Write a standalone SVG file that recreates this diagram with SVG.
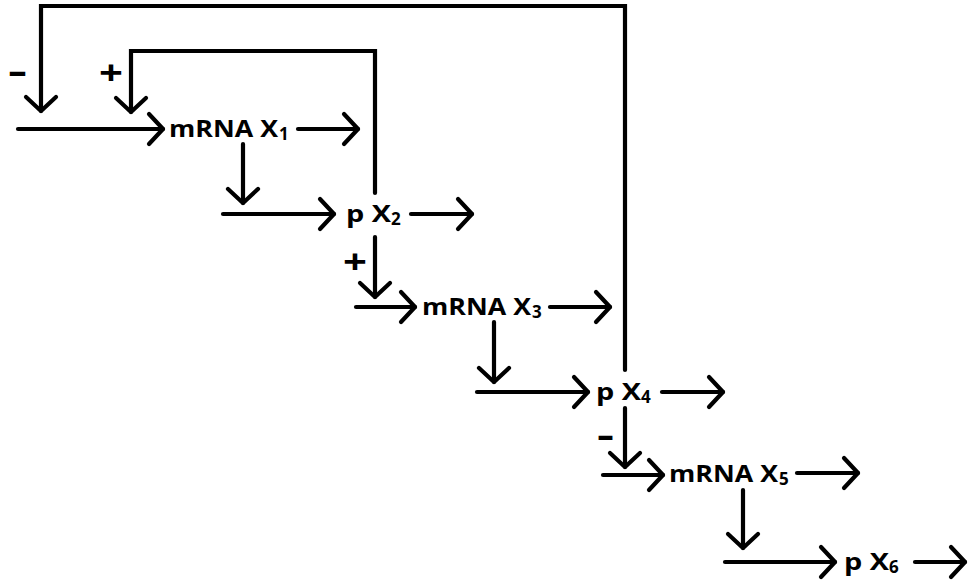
<svg xmlns="http://www.w3.org/2000/svg" width="969" height="580" viewBox="0 0 969 580">
<style>
.ln{fill:none;stroke:#000;stroke-width:4.2;stroke-linecap:round;stroke-linejoin:miter}
.t{font-family:"Open Sans","Liberation Sans",sans-serif;font-weight:700;font-size:23.5px;fill:#000}
.s{font-family:"Open Sans","Liberation Sans",sans-serif;font-weight:700;font-size:17px;fill:#000}
.sg{font-family:"Open Sans","Liberation Sans",sans-serif;font-weight:700;fill:#000}
</style>
<defs>
<marker id="ah" viewBox="-18 -18 22 36" refX="0" refY="0" markerWidth="22" markerHeight="36" markerUnits="userSpaceOnUse" orient="auto" overflow="visible">
<path d="M-14,-15 L0,0 L-14,15" fill="none" stroke="#000" stroke-width="4.2" stroke-linecap="round" stroke-linejoin="round"/>
</marker>
</defs>
<rect width="969" height="580" fill="#fff"/>
<g id="connectors">
<path class="ln" marker-end="url(#ah)" d="M18,129 H163"/>
<path class="ln" marker-end="url(#ah)" d="M298,129 H358"/>
<path class="ln" marker-end="url(#ah)" d="M243,144 V203"/>
<path class="ln" marker-end="url(#ah)" d="M223,214 H334"/>
<path class="ln" marker-end="url(#ah)" d="M411,214 H472"/>
<path class="ln" marker-end="url(#ah)" d="M375,193 V51 H131 V112"/>
<path class="ln" marker-end="url(#ah)" d="M375,237 V297"/>
<path class="ln" marker-end="url(#ah)" d="M356,307 H415"/>
<path class="ln" marker-end="url(#ah)" d="M550,307 H610"/>
<path class="ln" marker-end="url(#ah)" d="M494,322 V382"/>
<path class="ln" marker-end="url(#ah)" d="M477,392 H588"/>
<path class="ln" marker-end="url(#ah)" d="M662,392 H723"/>
<path class="ln" marker-end="url(#ah)" d="M625,370 V6 H41 V111"/>
<path class="ln" marker-end="url(#ah)" d="M625,408 V467"/>
<path class="ln" marker-end="url(#ah)" d="M603,475 H663"/>
<path class="ln" marker-end="url(#ah)" d="M797,473 H858"/>
<path class="ln" marker-end="url(#ah)" d="M743,490 V548"/>
<path class="ln" marker-end="url(#ah)" d="M725,562 H835"/>
<path class="ln" marker-end="url(#ah)" d="M915,562 H965"/>
</g>
<g id="signs">
<text class="sg" x="8" y="83" font-size="34" textLength="19" lengthAdjust="spacingAndGlyphs">-</text>
<text class="sg" x="99" y="85" font-size="34" textLength="24" lengthAdjust="spacingAndGlyphs">+</text>
<text class="sg" x="343" y="274" font-size="34" textLength="24" lengthAdjust="spacingAndGlyphs">+</text>
<text class="sg" x="597" y="447" font-size="34" textLength="17" lengthAdjust="spacingAndGlyphs">-</text>
</g>
<g id="mRNA_X1"><text class="t" x="169" y="137" textLength="109" lengthAdjust="spacingAndGlyphs">mRNA X</text><text class="s" x="279" y="140">1</text></g>
<g id="p_X2"><text class="t" x="346" y="222" textLength="45" lengthAdjust="spacingAndGlyphs">p X</text><text class="s" x="391" y="225">2</text></g>
<g id="mRNA_X3"><text class="t" x="422" y="315" textLength="109" lengthAdjust="spacingAndGlyphs">mRNA X</text><text class="s" x="532" y="318">3</text></g>
<g id="p_X4"><text class="t" x="596" y="400" textLength="45" lengthAdjust="spacingAndGlyphs">p X</text><text class="s" x="641" y="403">4</text></g>
<g id="mRNA_X5"><text class="t" x="669" y="482" textLength="109" lengthAdjust="spacingAndGlyphs">mRNA X</text><text class="s" x="779" y="485">5</text></g>
<g id="p_X6"><text class="t" x="844" y="570" textLength="45" lengthAdjust="spacingAndGlyphs">p X</text><text class="s" x="889" y="573">6</text></g>
</svg>
